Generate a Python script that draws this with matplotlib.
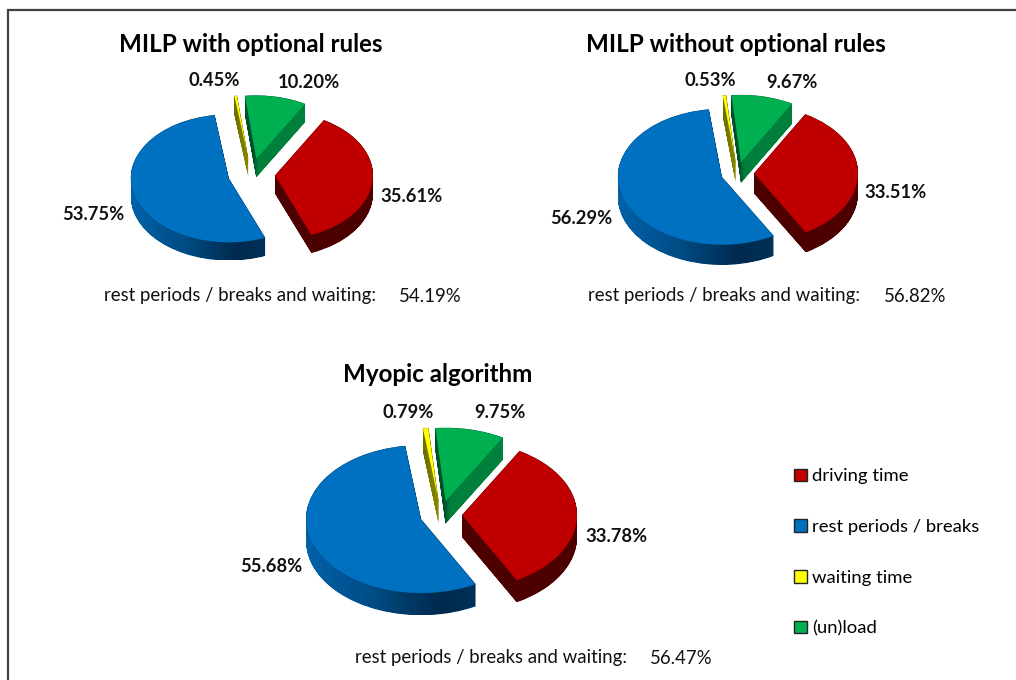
import numpy as np
import matplotlib
matplotlib.use('Agg')
import matplotlib.pyplot as plt
from matplotlib.colors import LinearSegmentedColormap
from matplotlib.patches import Patch, PathPatch
from matplotlib.path import Path

plt.rcParams['font.family'] = ['Lato', 'DejaVu Sans']

# values in legend order: driving, rest, waiting, (un)load
categories = ['driving time', 'rest periods / breaks', 'waiting time', '(un)load']
milp_with = [35.61, 53.75, 0.45, 10.20]
milp_without = [33.51, 56.29, 0.53, 9.67]
myopic = [33.78, 55.68, 0.79, 9.75]
titles = ['MILP with optional rules', 'MILP without optional rules', 'Myopic algorithm']
rest_and_waiting = [54.19, 56.82, 56.47]

colors = ['#C00000', '#0070C0', '#FFFF00', '#00B050']
side_stops = [
    [(0, '#4d0000'), (1, '#4d0000')],
    [(0, '#0062A8'), (0.4, '#004C85'), (0.78, '#002A4E'), (1, '#003058')],
    [(0, '#6b6b00'), (1, '#8a8a00')],
    [(0, '#00502a'), (0.14, '#00502a'), (0.22, '#00803c'), (1, '#00803c')],
]

W, H = 1016, 680
fig = plt.figure(figsize=(W / 100, H / 100), dpi=100)

# page axes in pixel units, holds the frame, text and legend
page = fig.add_axes([0, 0, 1, 1])
page.set_xlim(0, W)
page.set_ylim(H, 0)
page.axis('off')
page.plot([7.5, 7.5, W], [H, 9.5, 9.5], color='#404040', lw=1.6, solid_joinstyle='miter')


def draw_pie(values, cx, cy, rx, ry, depth, explode_px, start_cw):
    x0, x1, y0, y1 = -1.6, 1.6, -1.8, 1.6
    left = cx + x0 * rx
    bottom = H - (cy - y0 * ry)
    ax = fig.add_axes([left / W, bottom / H, (x1 - x0) * rx / W, (y1 - y0) * ry / H])
    wedges, _ = ax.pie(values, colors=colors, radius=1,
                       explode=[explode_px / rx] * len(values),
                       startangle=90 - start_cw, counterclock=False,
                       wedgeprops={'linewidth': 0.3, 'edgecolor': '#00000040', 'zorder': 5})
    # side walls: the same wedge swept down, filled with a clipped gradient
    for wedge, stops in zip(wedges, side_stops):
        base = wedge.get_patch_transform().transform_path(wedge.get_path())
        layers = []
        for dy in np.linspace(0, depth / ry, 30):
            layers.append(Path(base.vertices - [0, dy], base.codes))
        swept = Path.make_compound_path(*layers)
        box = swept.get_extents()
        cmap = LinearSegmentedColormap.from_list('side', stops)
        im = ax.imshow(np.linspace(0, 1, 256)[None, :], cmap=cmap, aspect='auto', zorder=2,
                       extent=[box.x0, box.x1, box.y0, box.y1])
        clip = PathPatch(swept, transform=ax.transData, fc='none', ec='none')
        ax.add_patch(clip)
        im.set_clip_path(clip)
    ax.set_aspect('auto')
    ax.set_xlim(x0, x1)
    ax.set_ylim(y0, y1)
    ax.patch.set_alpha(0)
    return ax


pies = [
    (milp_with, 251.5, 174.5, 98, 64, 18, 23.5, 30),
    (milp_without, 737.5, 173.5, 104, 68, 20, 16.5, 29.5),
    (myopic, 441, 515, 115, 74, 22, 21, 30),
]
for p in pies:
    draw_pie(*p)

# title, label positions (order follows the values)
title_pos = [(251, 45), (736, 45), (438, 375)]
rest_pos = [(104, 296), (588, 296), (355, 658)]
pct_pos = [(462, 296), (946, 296), (713, 658)]
label_pos = [
    [(411, 197), (93, 215), (214, 80), (309, 82)],
    [(895, 193), (581, 219), (710, 80), (792, 82)],
    [(616, 537), (271, 567), (408, 412), (500, 413)],
]
all_values = [milp_with, milp_without, myopic]
for i in range(3):
    page.text(*title_pos[i], titles[i], fontsize=17.4, fontweight='bold', ha='center', va='center', color='black')
    page.text(*rest_pos[i], 'rest periods / breaks and waiting:', fontsize=13.4, ha='left', va='center', color='#111111')
    page.text(*pct_pos[i], f'{rest_and_waiting[i]:.2f}%', fontsize=13.4, ha='right', va='center', color='#111111')
    for v, (x, y) in zip(all_values[i], label_pos[i]):
        page.text(x, y, f'{v:.2f}%', fontsize=13.2, fontweight='bold', ha='center', va='center', color='#111111')

handles = [Patch(facecolor=c, edgecolor='#222222', linewidth=1) for c in colors]
page.legend(handles, categories, loc='upper left', bbox_to_anchor=(787 / W, 1 - 461 / H),
            bbox_transform=fig.transFigure, frameon=False, fontsize=13.3,
            handlelength=0.66, handleheight=0.66, handletextpad=0.3,
            labelspacing=1.88, borderpad=0.4, borderaxespad=0)

fig.savefig('out.png', dpi=100)
